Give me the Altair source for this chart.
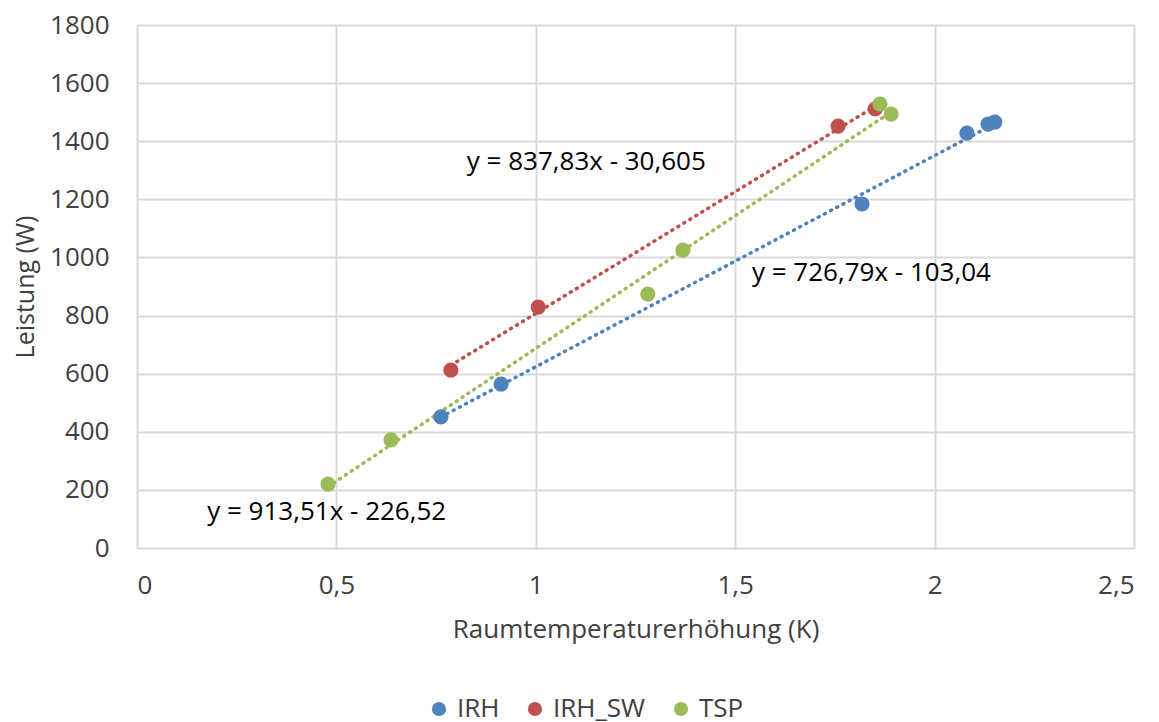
import altair as alt
import pandas as pd

# Data
irh_x = [0.762, 0.913, 1.818, 2.081, 2.134, 2.151]
irh_y = [451, 564, 1184, 1428, 1459, 1466]
sw_x = [0.787, 1.006, 1.758, 1.851]
sw_y = [612, 829, 1452, 1511]
tsp_x = [0.479, 0.637, 1.281, 1.369, 1.863, 1.891]
tsp_y = [220, 372, 874, 1025, 1528, 1493]

series = ["IRH", "IRH_SW", "TSP"]
colors = ["#4F81BD", "#C0504D", "#9BBB59"]
slopes = [726.79, 837.83, 913.51]
intercepts = [-103.04, -30.605, -226.52]
eq_labels = ["y = 726,79x - 103,04", "y = 837,83x - 30,605", "y = 913,51x - 226,52"]
eq_pos_x = [1.542, 0.827, 0.176]
eq_pos_y = [946, 1328, 124]

rows = []
for s, xs, ys in zip(series, [irh_x, sw_x, tsp_x], [irh_y, sw_y, tsp_y]):
    for x, y in zip(xs, ys):
        rows.append({"series": s, "x": x, "y": y})
pts = pd.DataFrame(rows)

trend_rows = []
for s, xs, m, b in zip(series, [irh_x, sw_x, tsp_x], slopes, intercepts):
    for x in (min(xs), max(xs)):
        trend_rows.append({"series": s, "x": x, "y": m * x + b})
trend = pd.DataFrame(trend_rows)

labels = pd.DataFrame({"label": eq_labels, "x": eq_pos_x, "y": eq_pos_y})

FONT = "Open Sans"
TXT = "#404040"

xscale = alt.Scale(domain=[0, 2.5], nice=False)
yscale = alt.Scale(domain=[0, 1800], nice=False)
legend = alt.Legend(title=None, orient="none", direction="horizontal",
                    legendX=289, legendY=671, symbolType="circle",
                    symbolSize=200, symbolStrokeWidth=0, symbolOpacity=1,
                    labelFontSize=26, labelFont=FONT, labelColor=TXT,
                    columnPadding=22, labelOffset=5)
color = alt.Color("series:N", scale=alt.Scale(domain=series, range=colors), legend=legend)

xaxis = alt.Axis(values=[0, 0.5, 1, 1.5, 2, 2.5],
                 labelExpr="replace(format(datum.value, '~g'), '.', ',')",
                 title="Raumtemperaturerhöhung (K)", titleFontSize=26, titleFont=FONT,
                 titleFontWeight="normal", titleColor=TXT, titlePadding=18,
                 labelFontSize=26, labelFont=FONT, labelColor=TXT, labelPadding=24,
                 domain=False, ticks=False, grid=True, gridColor="#D9D9D9", gridWidth=2)
yaxis = alt.Axis(values=list(range(0, 1801, 200)), format="d",
                 title="Leistung (W)", titleFontSize=25, titleFont=FONT,
                 titleFontWeight="normal", titleColor=TXT, titlePadding=11,
                 labelFontSize=26, labelFont=FONT, labelColor=TXT, labelPadding=28,
                 domain=False, ticks=False, grid=True, gridColor="#D9D9D9", gridWidth=2)

lines = alt.Chart(trend).mark_line(strokeWidth=3.5, strokeDash=[1, 6], strokeCap="round").encode(
    x=alt.X("x:Q", scale=xscale, axis=xaxis),
    y=alt.Y("y:Q", scale=yscale, axis=yaxis),
    color=color,
    detail="series:N",
)

points = alt.Chart(pts).mark_circle(size=230, opacity=1).encode(
    x=alt.X("x:Q", scale=xscale),
    y=alt.Y("y:Q", scale=yscale),
    color=color,
)

text = alt.Chart(labels).mark_text(align="left", baseline="middle", fontSize=26,
                                    font=FONT, color="#000000").encode(
    x=alt.X("x:Q", scale=xscale),
    y=alt.Y("y:Q", scale=yscale),
    text="label:N",
)

chart = alt.layer(lines, points, text).properties(
    width=997, height=523,
    autosize=alt.AutoSizeParams(type="none"),
    padding={"left": 129, "top": 17, "right": 10, "bottom": 174},
).configure_view(stroke=None).configure(background="white")

chart.save("out.html", embed_options={"renderer": "svg", "actions": False})
